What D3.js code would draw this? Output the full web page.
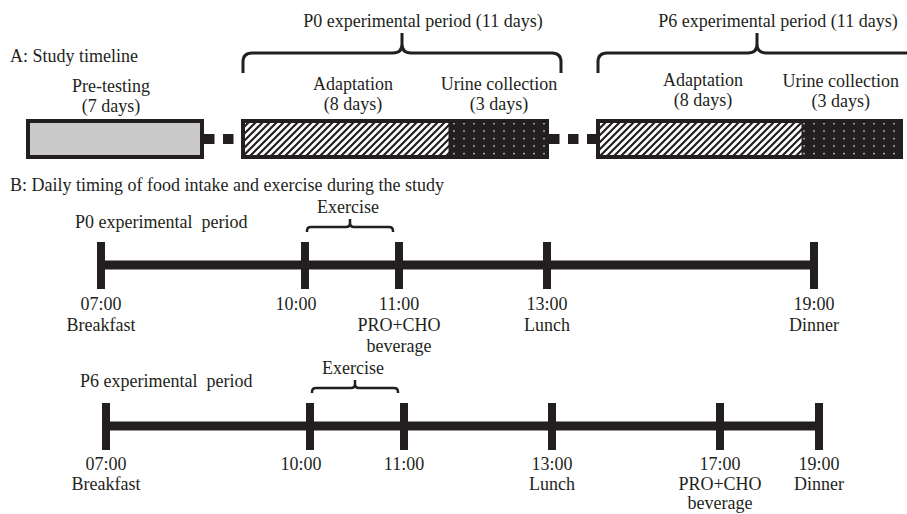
<!DOCTYPE html>
<html lang="en">
<head>
<meta charset="UTF-8" />
<title>Study timeline</title>
<script src="https://d3js.org/d3.v7.min.js"></script>
<style>
  body { margin: 0; background: #fff; }
  svg text { font-family: "Liberation Serif", "DejaVu Serif", serif; font-size: 18px; fill: #231f20; white-space: pre; }
</style>
</head>
<body>
<svg id="chart" width="907" height="514"></svg>
<script>
// ---- data ----
// A: study timeline (days per phase)
const blockNames = ["Pre-testing", "P0 experimental period (11 days)", "P6 experimental period (11 days)"];
const phaseNames = ["Pre-testing", "Adaptation", "Urine collection", "Adaptation", "Urine collection"];
const phaseDays = [7, 8, 3, 8, 3];
const phaseBlock = [0, 1, 1, 2, 2];
const phaseKind = ["pre", "adapt", "urine", "adapt", "urine"];

// B: daily timing
const p0Times = [7, 10, 11, 13, 19];
const p0Labels = ["07:00\nBreakfast", "10:00", "11:00\nPRO+CHO\nbeverage", "13:00\nLunch", "19:00\nDinner"];
const p6Times = [7, 10, 11, 13, 17, 19];
const p6Labels = ["07:00\nBreakfast", "10:00", "11:00", "13:00\nLunch", "17:00\nPRO+CHO\nbeverage", "19:00\nDinner"];
const exerciseTimes = [10, 11];

// ---- setup ----
const W = 907;
const ink = "#231f20";
const svg = d3.select("#chart");
const defs = svg.append("defs");

// hatch pattern for adaptation
const hatch = defs.append("pattern")
  .attr("id", "hatch").attr("patternUnits", "userSpaceOnUse")
  .attr("width", 7).attr("height", 7);
hatch.append("rect").attr("width", 7).attr("height", 7).attr("fill", "#fff");
hatch.append("path")
  .attr("d", "M-1,1 l2,-2 M0,7 l7,-7 M6,8 l2,-2")
  .attr("stroke", ink).attr("stroke-width", 2.2);

// dotted pattern for urine collection
const dots = defs.append("pattern")
  .attr("id", "dots").attr("patternUnits", "userSpaceOnUse")
  .attr("width", 10).attr("height", 7.5);
dots.append("rect").attr("width", 10).attr("height", 7.5).attr("fill", ink);
dots.append("circle").attr("cx", 4).attr("cy", 3.5).attr("r", 0.8).attr("fill", "#fff");

const fillFor = { pre: "#c9c9c9", adapt: "url(#hatch)", urine: "url(#dots)" };

// curly brace, opening downward
function brace(x1, x2, y, h, t, r) {
  const m = (x1 + x2) / 2;
  return `M${x1},${y + h} L${x1},${y + r} Q${x1},${y} ${x1 + r},${y} L${m - r},${y}` +
    ` Q${m},${y} ${m},${y - r} L${m},${y - t} M${m},${y - r} Q${m},${y} ${m + r},${y}` +
    ` L${x2 - r},${y} Q${x2},${y} ${x2},${y + r} L${x2},${y + h}`;
}

function multiline(sel, text, x, y, lh) {
  const t = sel.append("text").attr("text-anchor", "middle").attr("x", x).attr("y", y);
  text.split("\n").forEach((s, i) => {
    t.append("tspan").attr("x", x).attr("dy", i === 0 ? 0 : lh).text(s);
  });
  return t;
}

// ---- A: study timeline ----
svg.append("text").attr("x", 10).attr("y", 62).text("A: Study timeline");

// cumulative day positions with gaps between blocks
const gapDays = 1.5;
const starts = [];
let acc = 0;
phaseDays.forEach((d, i) => {
  if (i > 0 && phaseBlock[i] !== phaseBlock[i - 1]) acc += gapDays;
  starts.push(acc);
  acc += d;
});
const ends = starts.map((s, i) => s + phaseDays[i]);
// segment widths in the figure are not strictly proportional; piecewise scale
const xA = d3.scaleLinear()
  .domain([0, 7, 8.5, 16.5, 19.5, 21, 29, 32])
  .range([26, 204, 241, 449, 549, 596, 802, 903]);

const boxTop = 119, boxBot = 159, boxMid = 139;

// dashed connectors between blocks
const blockIdx = d3.range(blockNames.length);
const blockStart = blockIdx.map(b => d3.min(starts.filter((s, i) => phaseBlock[i] === b)));
const blockEnd = blockIdx.map(b => d3.max(ends.filter((e, i) => phaseBlock[i] === b)));
svg.append("g").selectAll("line")
  .data(blockIdx.slice(1))
  .join("line")
  .attr("x1", b => xA(blockEnd[b - 1]))
  .attr("x2", b => xA(blockStart[b]))
  .attr("y1", boxMid).attr("y2", boxMid)
  .attr("stroke", ink).attr("stroke-width", 10)
  .attr("stroke-dasharray", "10.5,8.5");

// phase fills
svg.append("g").selectAll("rect")
  .data(phaseNames.map((n, i) => i))
  .join("rect")
  .attr("x", i => xA(starts[i]))
  .attr("y", boxTop)
  .attr("width", i => xA(ends[i]) - xA(starts[i]))
  .attr("height", boxBot - boxTop)
  .attr("fill", i => fillFor[phaseKind[i]]);

// block outlines
svg.append("g").selectAll("rect")
  .data(blockIdx)
  .join("rect")
  .attr("x", b => xA(blockStart[b]) + 2)
  .attr("y", boxTop + 2)
  .attr("width", b => xA(blockEnd[b]) - xA(blockStart[b]) - 4)
  .attr("height", boxBot - boxTop - 4)
  .attr("fill", "none").attr("stroke", ink).attr("stroke-width", 4);

// divider between adaptation and urine
svg.append("g").selectAll("line")
  .data(phaseNames.map((n, i) => i).filter(i => phaseKind[i] === "urine"))
  .join("line")
  .attr("x1", i => xA(starts[i])).attr("x2", i => xA(starts[i]))
  .attr("y1", boxTop).attr("y2", boxBot)
  .attr("stroke", ink).attr("stroke-width", 1);

// phase labels (small nudges as in the figure)
const labelBase = [92, 90, 90, 86, 87];
const labelShift = [-4, 8, 0, 4, 0];
phaseNames.forEach((n, i) => {
  const cx = (xA(starts[i]) + xA(ends[i])) / 2 + labelShift[i];
  const t = multiline(svg, n + "\n(" + phaseDays[i] + " days)", cx, labelBase[i], 19.5);
  const w = t.node().getBBox().width;
  const shift = Math.min(0, W - 8 - (cx + w / 2));
  if (shift < 0) t.selectAll("tspan").attr("x", cx + shift);
});

// experimental-period braces
blockIdx.slice(1).forEach(b => {
  const x1 = xA(blockStart[b]) + 2;
  const span = 318;
  const x2 = x1 + span;
  svg.append("path")
    .attr("d", brace(x1, x2, 53, 20, 20, 9))
    .attr("fill", "none").attr("stroke", ink).attr("stroke-width", 3);
  svg.append("text")
    .attr("x", (x1 + x2) / 2 + 21).attr("y", 27)
    .attr("text-anchor", "middle")
    .text(blockNames[b]);
});

// ---- B: daily timing ----
svg.append("text").attr("x", 10).attr("y", 191)
  .text("B: Daily timing of food intake and exercise during the study");

// hour positions in the figure are not linear in time
const hourX = d3.scaleLinear()
  .domain([7, 10, 11, 13, 17, 19])
  .range([0, 204, 298, 446, 614, 713]);

const nudge = { 10: -9 };

function dayLine(name, times, labels, x0, y, nameY, labelY, lh) {
  const g = svg.append("g");
  g.append("text").attr("x", x0 - 26).attr("y", nameY).text(name);
  g.append("line")
    .attr("x1", x0 + hourX(d3.min(times))).attr("x2", x0 + hourX(d3.max(times)))
    .attr("y1", y).attr("y2", y)
    .attr("stroke", ink).attr("stroke-width", 9);
  g.selectAll(".tick")
    .data(times)
    .join("line")
    .attr("class", "tick")
    .attr("x1", d => x0 + hourX(d)).attr("x2", d => x0 + hourX(d))
    .attr("y1", y - 23).attr("y2", y + 24)
    .attr("stroke", ink).attr("stroke-width", 8);
  times.forEach((d, i) => {
    multiline(g, labels[i], x0 + hourX(d) + (nudge[d] || 0), labelY, lh);
  });
  // exercise brace
  const e1 = x0 + hourX(exerciseTimes[0]) + 2;
  const e2 = x0 + hourX(exerciseTimes[1]) - 6;
  g.append("path")
    .attr("d", brace(e1, e2, y - 38, 5, 8, 4))
    .attr("fill", "none").attr("stroke", ink).attr("stroke-width", 2.5);
  g.append("text")
    .attr("x", (e1 + e2) / 2 - 2).attr("y", y - 52)
    .attr("text-anchor", "middle").text("Exercise");
}

dayLine("P0 experimental  period", p0Times, p0Labels, 101, 265, 228, 310, 21);
dayLine("P6 experimental  period", p6Times, p6Labels, 106, 426, 387, 470, 19.5);
</script>
</body>
</html>
